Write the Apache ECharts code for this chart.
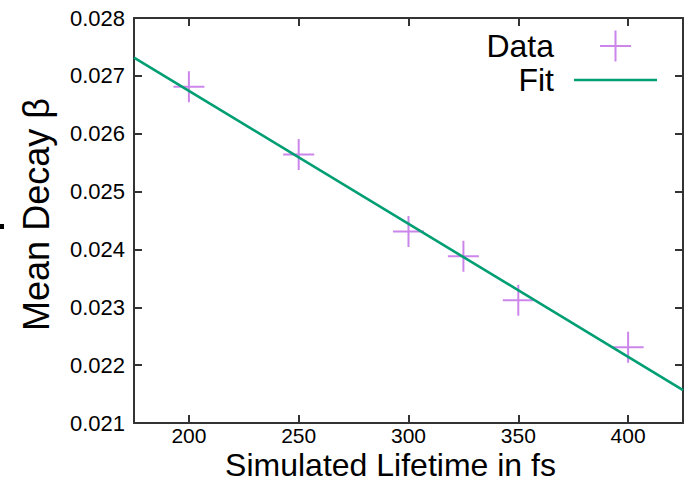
<!DOCTYPE html>
<html>
<head>
<meta charset="utf-8">
<style>
  html, body { margin: 0; padding: 0; background: #ffffff; }
  #chart { width: 687px; height: 485px; }
</style>
<script src="https://cdn.jsdelivr.net/npm/echarts@6/dist/echarts.min.js"></script>
</head>
<body>
<div id="chart"></div>
<script>
// ---- data ----
const lifetimes = [200, 250, 300, 325, 350, 400];
const meanBeta = [0.02681, 0.02564, 0.02431, 0.02388, 0.02312, 0.02231];
const fitX = [175, 425];
const fitY = [0.027316, 0.021569];
const xTicks = [200, 250, 300, 350, 400];
const yTicks = [0.021, 0.022, 0.023, 0.024, 0.025, 0.026, 0.027, 0.028];
const seriesNames = ['Data', 'Fit'];

const FONT = '"Liberation Sans", Arial, sans-serif';
const AXIS_COLOR = '#333333';
const CROSS = 'path://M14.5,0h2v31h-2zM0,14.5h31v2h-31z';
const LINE_ICON = 'path://M0,0h83v2.6h-83z';

const dataPoints = lifetimes.map((x, i) => [x, meanBeta[i]]);
const fitPoints = fitX.map((x, i) => [x, fitY[i]]);

const chart = echarts.init(document.getElementById('chart'), null, { renderer: 'svg' });

function frameAxis(extra) {
  return Object.assign({
    type: 'value',
    axisLine: { show: true, onZero: false, lineStyle: { color: AXIS_COLOR, width: 2 } },
    splitLine: { show: false },
  }, extra);
}
function ticks(values) {
  return { show: true, inside: true, length: 8, customValues: values, lineStyle: { color: AXIS_COLOR, width: 2 } };
}

const option = {
  backgroundColor: '#ffffff',
  animation: false,
  textStyle: { fontFamily: FONT },
  grid: { left: 134, right: 4, top: 18, bottom: 62, containLabel: false, outerBoundsMode: 'none' },
  legend: {
    orient: 'vertical',
    right: 25,
    top: 25,
    align: 'right',
    itemWidth: 83,
    itemHeight: 31,
    itemGap: 2,
    symbolKeepAspect: true,
    selectedMode: false,
    textStyle: { fontFamily: FONT, fontSize: 32, lineHeight: 32, color: '#000', padding: [0, 15, 0, 0] },
    data: [
      { name: seriesNames[0], icon: CROSS },
      { name: seriesNames[1], icon: LINE_ICON }
    ]
  },
  xAxis: [
    frameAxis({
      position: 'bottom',
      min: fitX[0], max: fitX[1],
      name: 'Simulated Lifetime in fs',
      nameLocation: 'middle',
      nameGap: 26,
      nameMoveOverlap: false,
      nameTextStyle: { fontFamily: FONT, fontSize: 32, color: '#000', padding: [0, 36, 0, 0] },
      axisTick: ticks(xTicks),
      axisLabel: { customValues: xTicks, fontFamily: FONT, fontSize: 21, lineHeight: 16, color: '#000', margin: 4 }
    }),
    frameAxis({
      position: 'top',
      min: fitX[0], max: fitX[1],
      axisTick: ticks(xTicks),
      axisLabel: { show: false }
    })
  ],
  yAxis: [
    frameAxis({
      position: 'left',
      min: yTicks[0], max: yTicks[yTicks.length - 1],
      name: 'Mean Decay β',
      nameLocation: 'middle',
      nameGap: 80,
      nameMoveOverlap: false,
      nameTextStyle: { fontFamily: FONT, fontSize: 36, color: '#000', padding: [0, 0, 0, 12] },
      axisTick: ticks(yTicks),
      axisLabel: {
        customValues: yTicks, fontFamily: FONT, fontSize: 22, color: '#000', margin: 9,
        formatter: v => v.toFixed(3)
      }
    }),
    frameAxis({
      position: 'right',
      min: yTicks[0], max: yTicks[yTicks.length - 1],
      axisTick: ticks(yTicks),
      axisLabel: { show: false }
    })
  ],
  series: [
    {
      name: seriesNames[0],
      type: 'scatter',
      data: dataPoints,
      symbol: CROSS,
      symbolSize: 31,
      itemStyle: { color: 'rgba(148,0,211,0.6)' },
      z: 2
    },
    {
      name: seriesNames[1],
      type: 'line',
      data: fitPoints,
      symbol: 'none',
      lineStyle: { color: '#009e73', width: 2.6 },
      itemStyle: { color: '#009e73' },
      z: 3
    }
  ],
  graphic: [
    { type: 'rect', left: 0, top: 224, shape: { width: 4, height: 5 }, style: { fill: '#000' } }
  ]
};

chart.setOption(option);
</script>
</body>
</html>
